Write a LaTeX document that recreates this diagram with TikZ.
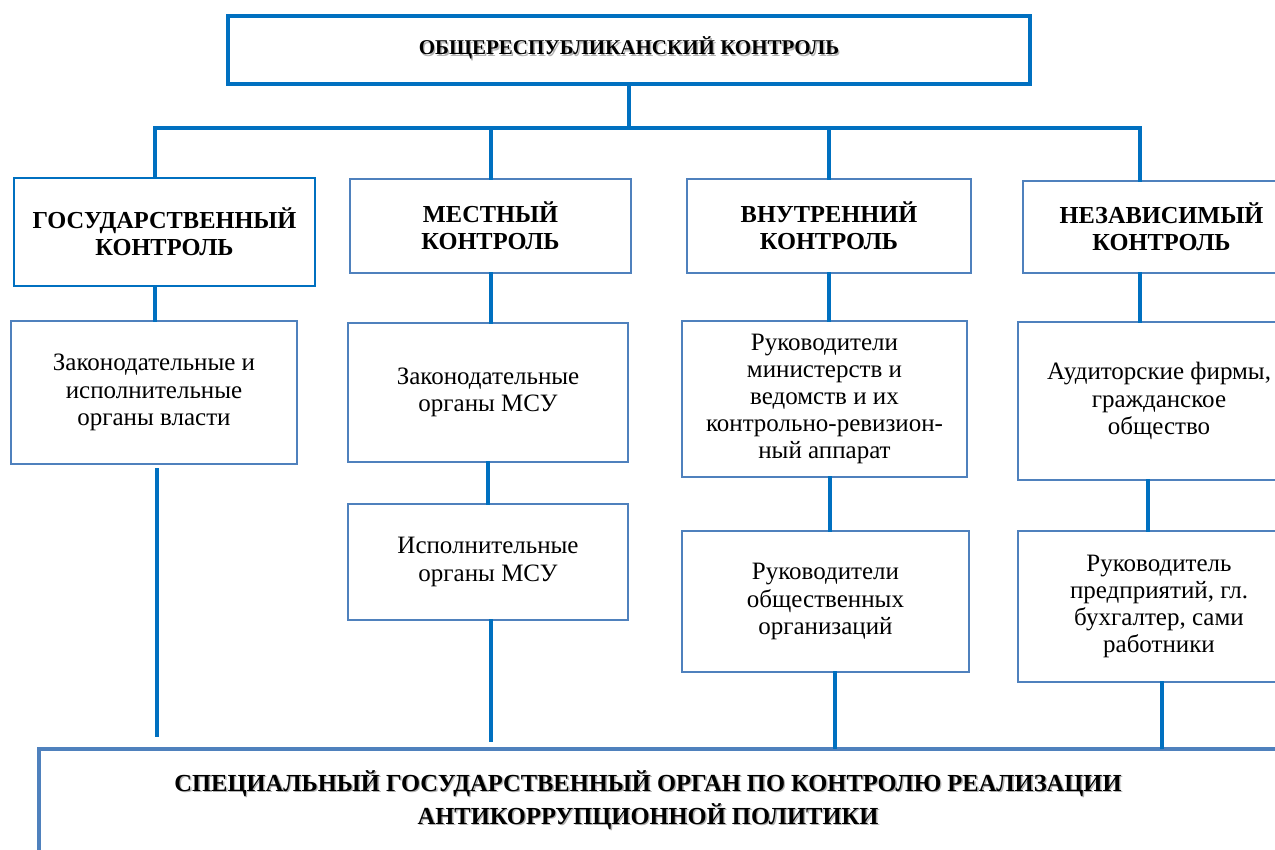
\documentclass[tikz,border=0pt]{standalone}
\usepackage{fontspec}
\setmainfont{Liberation Serif}
\definecolor{lineblue}{HTML}{0070C0}
\definecolor{boxblue}{HTML}{4F81BD}
% bold title with a soft grey shadow behind it
\newcommand{\shadowed}[1]{\rlap{\textcolor{black!30}{\kern0.7pt\raisebox{-0.7pt}{\begin{tabular}{@{}c@{}}#1\end{tabular}}}}\begin{tabular}{@{}c@{}}#1\end{tabular}}

\begin{document}
\begin{tikzpicture}[x=0.5pt,y=-0.5pt,
  link/.style={draw=lineblue,line width=2pt,line cap=rect},
  topbox/.style={draw=lineblue,line width=2pt,minimum width=401pt,minimum height=34pt},
  headbox/.style={draw=boxblue,line width=1pt,align=center,inner sep=0pt,
    font=\fontsize{12.2}{13.7}\selectfont\bfseries},
  orgbox/.style={draw=boxblue,line width=1pt,align=center,inner sep=0pt,
    font=\fontsize{12.5}{13.6}\selectfont},
  specbox/.style={draw=boxblue,line width=2pt,minimum width=631.5pt,minimum height=100pt,anchor=north west}]
\useasboundingbox (0,0) rectangle (1275,850);
\clip (0,0) rectangle (1275,850);

\node[topbox,font=\fontsize{10.5}{12}\selectfont\bfseries] (top) at (629,50) {\shadowed{ОБЩЕРЕСПУБЛИКАНСКИЙ КОНТРОЛЬ}};

% types of control
\node[headbox,draw=lineblue,minimum width=150.5pt,minimum height=54pt] (gos) at (164.5,232) {ГОСУДАРСТВЕННЫЙ\\КОНТРОЛЬ};
\node[headbox,minimum width=140.5pt,minimum height=47pt] (mest) at (490.5,226) {МЕСТНЫЙ\\КОНТРОЛЬ};
\node[headbox,minimum width=142pt,minimum height=47pt] (vnut) at (829,226) {ВНУТРЕННИЙ\\КОНТРОЛЬ};
\node[headbox,minimum width=138.5pt,minimum height=46pt] (nez) at (1161.5,227) {НЕЗАВИСИМЫЙ\\КОНТРОЛЬ};

% subjects
\node[orgbox,minimum width=143pt,minimum height=71.5pt] (zak1) at (154,392.5) {Законодательные и\\исполнительные\\органы власти};
\node[orgbox,minimum width=140pt,minimum height=69.5pt] (zak2) at (488,392.5) {Законодательные\\органы МСУ};
\node[orgbox,minimum width=142.5pt,minimum height=78pt] (ruk1) at (824.5,399) {Руководители\\министерств и\\ведомств и их\\контрольно-ревизион-\\ный аппарат};
\node[orgbox,minimum width=141pt,minimum height=79pt] (aud) at (1159,401) {Аудиторские фирмы,\\гражданское\\общество};
\node[orgbox,minimum width=140pt,minimum height=58pt] (isp) at (488,562) {Исполнительные\\органы МСУ};
\node[orgbox,minimum width=143.5pt,minimum height=70.5pt] (ruk2) at (825.5,601.5) {Руководители\\общественных\\организаций};
\node[orgbox,minimum width=141pt,minimum height=75.5pt] (rukp) at (1159,606.5) {Руководитель\\предприятий, гл.\\бухгалтер, сами\\работники};

\node[specbox] (spec) at (37,747) {};
\node[font=\fontsize{12.25}{16.5}\selectfont\bfseries] (spectext) at (648,802) {\shadowed{СПЕЦИАЛЬНЫЙ ГОСУДАРСТВЕННЫЙ ОРГАН ПО КОНТРОЛЮ РЕАЛИЗАЦИИ\\АНТИКОРРУПЦИОННОЙ ПОЛИТИКИ}};

% tree
\coordinate (busl) at (155,128);
\coordinate (busr) at (1140,128);
\draw[link] (top.south) -- (top.south |- busl);
\draw[link] (busl) -- (busr);
\draw[link] (busl) -- (busl |- gos.north);
\draw[link] (mest.north |- busl) -- (mest.north);
\draw[link] (vnut.north |- busl) -- (vnut.north);
\draw[link] (busr) -- (busr |- nez.north);

\draw[link] (155,0 |- gos.south) -- (155,0 |- zak1.north);
\draw[link] (mest.south) -- (mest.south |- zak2.north);
\draw[link] (vnut.south) -- (vnut.south |- ruk1.north);
\draw[link] (1140,0 |- nez.south) -- (1140,0 |- aud.north);

\draw[link] (zak2.south) -- (isp.north);
\draw[link] (830,0 |- ruk1.south) -- (830,0 |- ruk2.north);
\draw[link] (1148,0 |- aud.south) -- (1148,0 |- rukp.north);

\draw[link,shorten <=2.5pt,shorten >=6pt] (157,0 |- zak1.south) -- (157,0 |- spec.north);
\draw[link,shorten >=3.5pt] (491,0 |- isp.south) -- (491,0 |- spec.north);
\draw[link] (835,0 |- ruk2.south) -- (835,0 |- spec.north);
\draw[link] (1162,0 |- rukp.south) -- (1162,0 |- spec.north);
\end{tikzpicture}
\end{document}
